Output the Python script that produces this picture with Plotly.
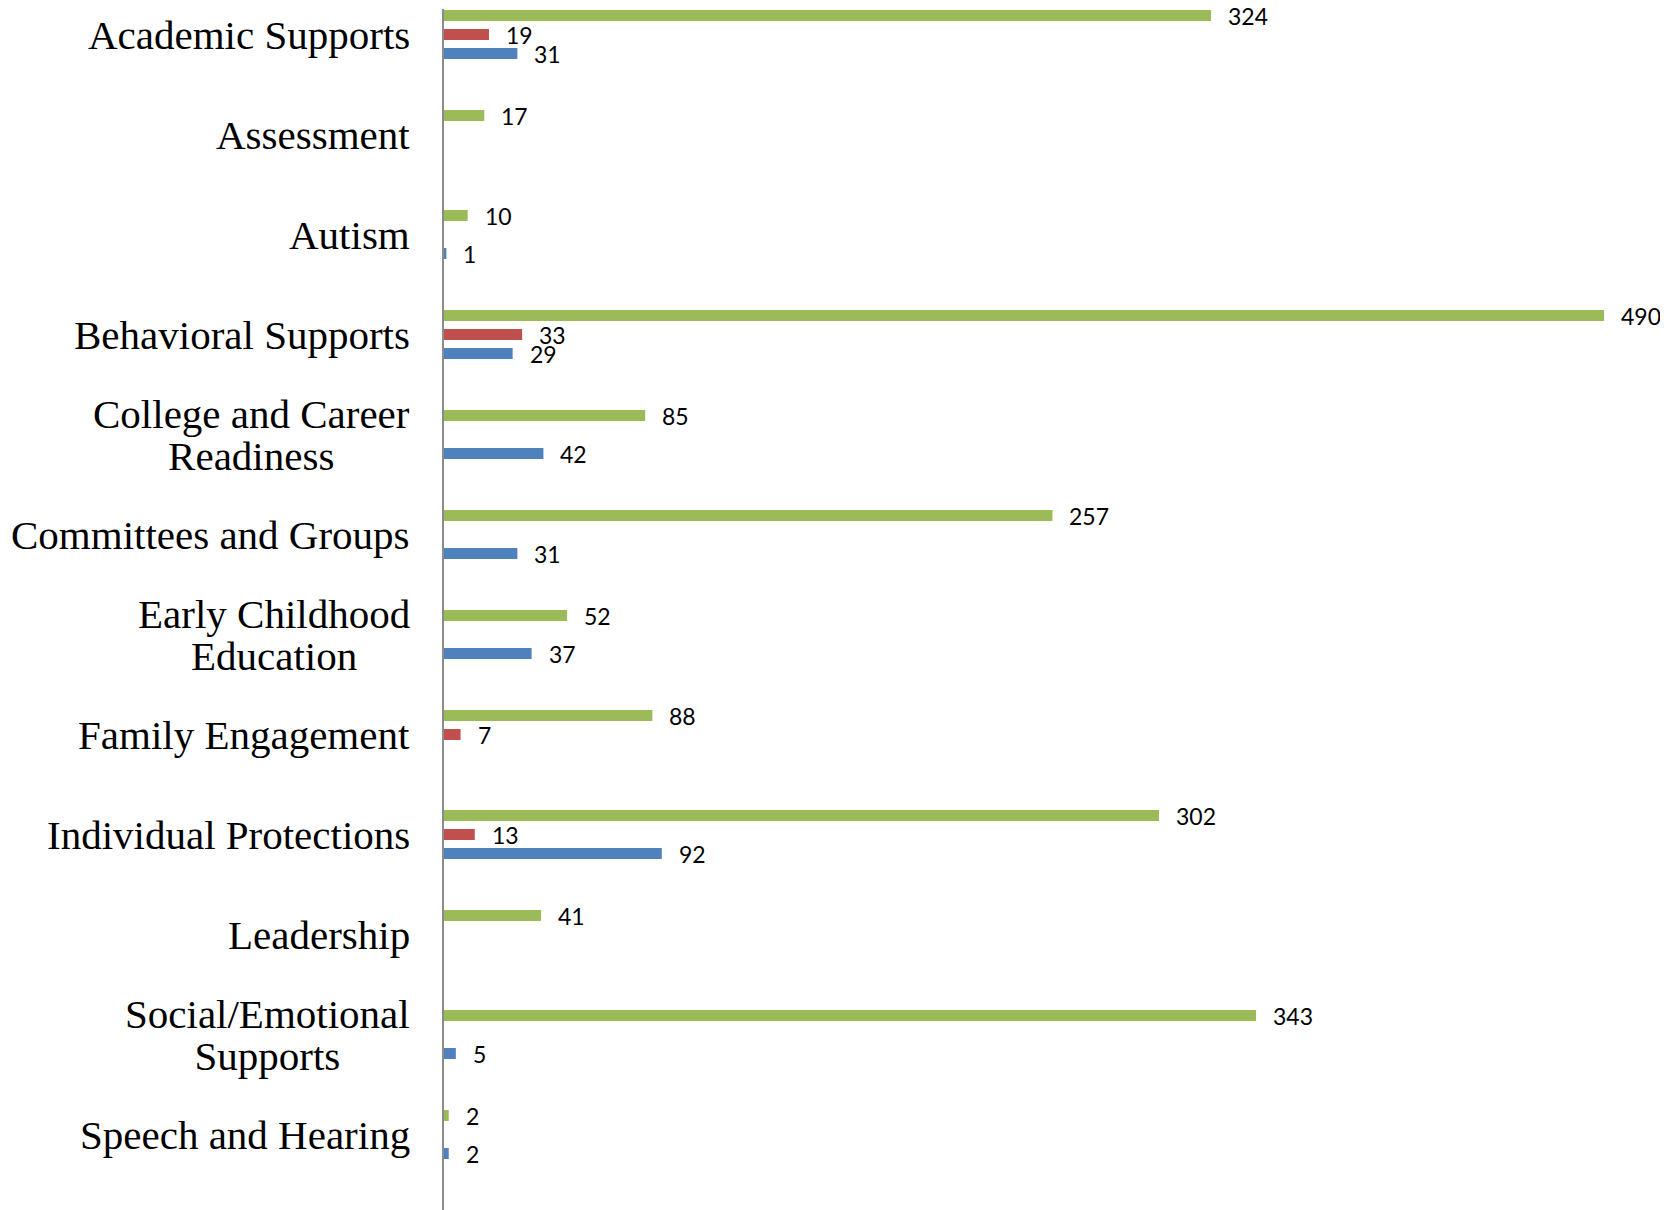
import plotly.graph_objects as go

categories = ["Academic Supports", "Assessment", "Autism", "Behavioral Supports",
              "College and Career<br>Readiness", "Committees and Groups",
              "Early Childhood<br>Education", "Family Engagement",
              "Individual Protections", "Leadership",
              "Social/Emotional<br>Supports", "Speech and Hearing"]
green_vals = [324, 17, 10, 490, 85, 257, 52, 88, 302, 41, 343, 2]
red_vals = [19, None, None, 33, None, None, None, 7, 13, None, None, None]
blue_vals = [31, None, 1, 29, 42, 31, 37, None, 92, None, 5, 2]

series = [
    (green_vals, "#9BBB59", -0.19),
    (red_vals, "#C0504D", 0.0),
    (blue_vals, "#4F81BD", 0.19),
]
bar_w = 0.11

fig = go.Figure()
annotations = []
for vals, color, center in series:
    fig.add_trace(go.Bar(
        y=list(range(len(categories))), x=vals, orientation="h",
        marker=dict(color=color, line=dict(width=0)),
        width=bar_w, offset=center - bar_w / 2, showlegend=False,
    ))
    for i, v in enumerate(vals):
        if v is None:
            continue
        annotations.append(dict(
            x=v, y=i + center, xref="x", yref="y", text=str(v),
            showarrow=False, xanchor="left", yanchor="middle", xshift=15,
            font=dict(family="Lato", size=23, color="#000000"),
        ))

for i, c in enumerate(categories):
    lines = c.split("<br>")
    txt = "<br>".join('<span style="font-size:41px">%s</span>' % ln for ln in lines)
    annotations.append(dict(
        x=0, y=i, xref="paper", yref="y", text=txt, showarrow=False,
        xanchor="right", yanchor="middle", xshift=-32, align="center",
        font=dict(family="Liberation Serif", size=32, color="#000000"),
    ))

fig.update_layout(
    width=1660, height=1202,
    margin=dict(l=436, r=0, t=1, b=0),
    plot_bgcolor="white", paper_bgcolor="white",
    barmode="overlay",
    annotations=annotations,
    xaxis=dict(range=[0, 517], showgrid=False, zeroline=False,
               showticklabels=False, showline=False, ticks=""),
    yaxis=dict(range=[11.755, -0.255], showgrid=False, zeroline=False,
               showticklabels=False, showline=True, linecolor="#8c8c8c",
               linewidth=2, ticks=""),
)

fig.write_html("out.html")
